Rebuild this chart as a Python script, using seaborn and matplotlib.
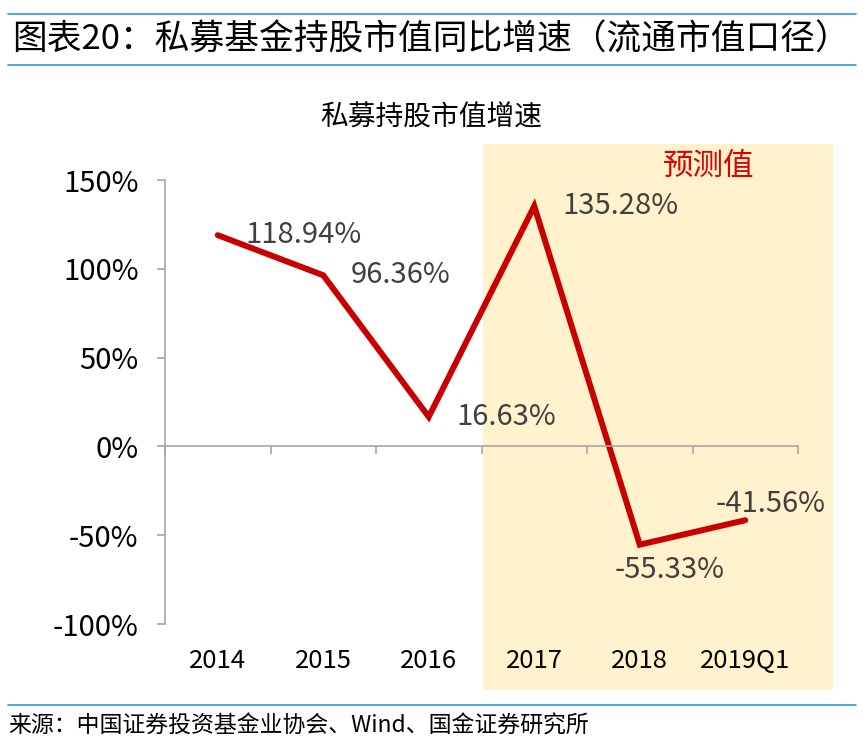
import matplotlib
matplotlib.use("Agg")
import matplotlib.pyplot as plt
import seaborn as sns
import pandas as pd
from matplotlib.patches import Rectangle
from matplotlib.lines import Line2D

# === DATA ===
years = ["2014", "2015", "2016", "2017", "2018", "2019Q1"]
growth = [118.94, 96.36, 16.63, 135.28, -55.33, -41.56]
label_texts = ["118.94%", "96.36%", "16.63%", "135.28%", "-55.33%", "-41.56%"]
y_ticks = [-100, -50, 0, 50, 100, 150]

# === STYLE ===
sns.set_theme(style="white")
FONTS = ["Noto Sans CJK SC", "DejaVu Sans"]
plt.rcParams["font.family"] = FONTS
RED = "#C80000"
GRAY = "#A6A6A6"
BLUE = "#2B9BD3"

fig = plt.figure(figsize=(8.66, 7.52), dpi=100, facecolor="white")

# forecast shading (extends beyond plot area)
fig.add_artist(Rectangle((483 / 866, 1 - 690 / 752), 350 / 866, 546 / 752,
                         transform=fig.transFigure, facecolor="#FFF2CC",
                         edgecolor="none", zorder=0))

ax = fig.add_axes([165 / 866, 1 - 624 / 752, (798 - 165) / 866, (624 - 180) / 752])
ax.set_facecolor("none")

df = pd.DataFrame({"year": years, "growth": growth})
sns.lineplot(data=df, x="year", y="growth", ax=ax, color=RED, linewidth=4.3,
             sort=False, solid_capstyle="round", solid_joinstyle="miter")

ax.set_xlim(-0.5, len(years) - 0.5)
ax.set_ylim(-100, 150)
ax.set_xlabel("")
ax.set_ylabel("")

# y axis
ax.set_yticks(y_ticks)
ax.set_yticklabels([f"{v}%" for v in y_ticks], fontsize=21, color="black")
ax.tick_params(axis="y", which="major", left=True, length=6, width=1.2,
               color=GRAY, direction="out", pad=13)

# x axis crossing at zero, labels kept low
for s in ["top", "right"]:
    ax.spines[s].set_visible(False)
ax.spines["left"].set_color(GRAY)
ax.spines["left"].set_linewidth(1.2)
ax.spines["bottom"].set_color(GRAY)
ax.spines["bottom"].set_linewidth(1.2)
ax.spines["bottom"].set_position(("data", 0))
ax.set_xticks(range(len(years)))
ax.set_xticklabels(years, fontsize=18.5, color="black")
ax.set_xticks([i - 0.5 for i in range(len(years) + 1)], minor=True)
ax.tick_params(axis="x", which="major", bottom=True, length=0, pad=145)
ax.tick_params(axis="x", which="minor", bottom=True, length=6, width=1.2,
               color=GRAY, direction="out")

# data labels
offsets = [(20, 0, "left"), (20, 0, "left"), (20, 0, "left"), (20, 0, "left"),
           (21.5, -18, "center"), (18, 11.5, "center")]
for i, (txt, (dx, dy, ha)) in enumerate(zip(label_texts, offsets)):
    ax.annotate(txt, xy=(i, growth[i]), xytext=(dx, dy), textcoords="offset points",
                ha=ha, va="center", fontsize=21, color="#404040")

# chart title and forecast tag
fig.text(431 / 866, 1 - 118 / 752, "私募持股市值增速", ha="center", va="center",
         fontsize=20, color="black")
fig.text(709 / 866, 1 - 166 / 752, "预测值", ha="center", va="center",
         fontsize=22, color="#E00000", fontweight="light")

# header / footer
fig.add_artist(Line2D([8 / 866, 856 / 866], [1 - 14 / 752] * 2, color=BLUE, linewidth=1.2))
fig.add_artist(Line2D([8 / 866, 856 / 866], [1 - 65 / 752] * 2, color=BLUE, linewidth=1.2))
fig.add_artist(Line2D([8 / 866, 856 / 866], [1 - 705 / 752] * 2, color=BLUE, linewidth=1.2))
fig.text(12 / 866, 1 - 40 / 752, "图表20：私募基金持股市值同比增速（流通市值口径）",
         ha="left", va="center", fontsize=25, color="black", style="italic")
fig.text(8 / 866, 1 - 726 / 752, "来源：中国证券投资基金业协会、Wind、国金证券研究所",
         ha="left", va="center", fontsize=16.5, color="black", fontweight="light")

fig.savefig("out.png", dpi=100, facecolor="white")
